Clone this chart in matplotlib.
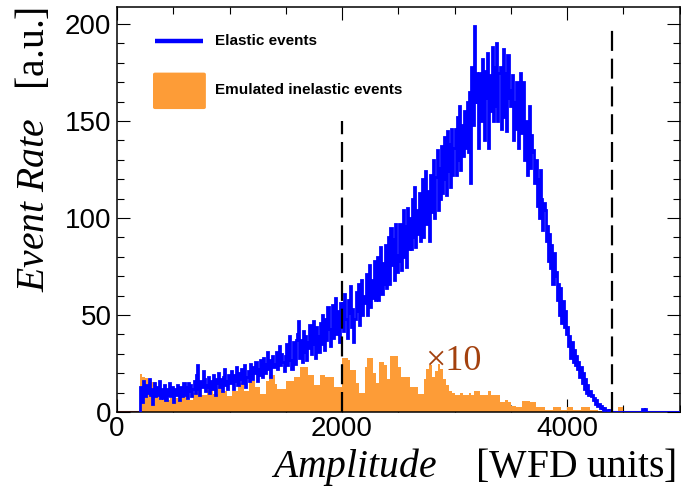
import numpy as np
import matplotlib
matplotlib.use("Agg")
import matplotlib.pyplot as plt
from matplotlib.patches import FancyBboxPatch

plt.rcParams['mathtext.fontset'] = 'custom'
plt.rcParams['mathtext.it'] = 'Liberation Serif:italic'
plt.rcParams['mathtext.rm'] = 'Liberation Serif'

# ---------------- data ----------------
# Elastic events: 10-unit bins starting at 200
elastic_start = 200
elastic_width = 10
elastic_counts = [
    13, 9, 5, 16, 11, 8, 14, 10, 17, 9,
    12, 4, 10, 15, 8, 13, 9, 16, 7, 12,
    11, 7, 14, 6, 12, 9, 15, 8, 10, 13,
    5, 12, 9, 14, 10, 6, 13, 11, 8, 15,
    9, 13, 7, 15, 11, 14, 8, 12, 16, 10,
    19, 24, 12, 9, 16, 13, 21, 17, 11, 14,
    13, 18, 10, 16, 12, 19, 14, 9, 17, 15,
    20, 13, 17, 11, 18, 22, 14, 16, 12, 19,
    15, 21, 18, 12, 19, 16, 23, 14, 20, 17,
    22, 15, 19, 24, 13, 18, 21, 16, 25, 18,
    17, 23, 20, 26, 16, 22, 19, 27, 21, 18,
    28, 20, 25, 31, 22, 27, 18, 24, 29, 23,
    25, 31, 22, 28, 34, 24, 30, 26, 21, 29,
    35, 24, 31, 39, 27, 22, 36, 30, 25, 37,
    40, 47, 28, 37, 26, 42, 31, 39, 27, 36,
    33, 45, 30, 41, 47, 35, 28, 44, 39, 31,
    46, 35, 50, 39, 32, 48, 37, 54, 43, 34,
    42, 55, 38, 50, 59, 40, 52, 36, 56, 47,
    56, 42, 61, 48, 38, 58, 51, 65, 44, 53,
    36, 48, 62, 52, 66, 45, 58, 68, 50, 60,
    56, 71, 50, 65, 76, 54, 68, 59, 78, 58,
    62, 80, 58, 73, 85, 61, 77, 66, 86, 64,
    72, 90, 66, 95, 76, 89, 68, 97, 81, 72,
    78, 97, 73, 90, 104, 80, 96, 75, 105, 84,
    100, 84, 110, 90, 116, 85, 104, 92, 113, 88,
    96, 120, 90, 110, 124, 97, 114, 88, 122, 103,
    106, 130, 100, 121, 135, 104, 126, 110, 137, 113,
    120, 142, 112, 145, 124, 138, 116, 146, 122, 136,
    146, 122, 152, 130, 158, 125, 148, 132, 155, 136,
    142, 160, 134, 165, 118, 178, 148, 199, 160, 175,
    160, 136, 175, 150, 182, 158, 140, 176, 162, 185,
    136, 174, 155, 188, 150, 178, 158, 190, 150, 175,
    178, 146, 170, 187, 152, 175, 145, 184, 162, 158,
    166, 174, 140, 160, 146, 170, 136, 158, 175, 144,
    152, 170, 130, 150, 122, 146, 158, 126, 143, 134,
    135, 118, 130, 106, 120, 100, 125, 110, 94, 108,
    104, 88, 96, 78, 92, 74, 86, 66, 82, 70,
    72, 58, 66, 50, 64, 46, 57, 44, 52, 40,
    44, 34, 39, 28, 36, 26, 32, 24, 29, 22,
    26, 18, 23, 15, 20, 12, 17, 10, 14, 9,
    11, 8, 9, 6, 7, 4, 6, 3, 4, 2,
    3, 2, 1, 2, 1, 1, 0, 1, 0, 0,
    0, 0, 0, 0, 0, 0, 0, 0, 0, 0,
    0, 0, 0, 0, 0, 0, 0, 0, 0, 0,
    0, 0, 0, 0, 0, 0, 0, 1.5, 0, 1.5,
    0, 0, 0, 0, 0, 0, 0, 0, 0, 0,
    0, 0, 0, 0, 0, 0, 0, 0, 0, 0,
    0, 0, 0, 0, 0, 0, 0, 0, 0, 0,
]

# Emulated inelastic events (x10): 25-unit bins starting at 200
inel_start = 200
inel_width = 25
inel_counts = [
    19.6, 18, 17.5, 15.5, 15.5, 15.5, 13, 11, 6, 6, 6, 7, 7, 7, 8, 8,
    8, 6, 6, 10, 11, 11, 9, 9, 12, 12, 9.5, 9.5, 14.5, 11, 11, 8,
    8, 11, 11, 15, 15, 11, 11, 16, 16, 13, 13, 9.5, 9.5, 16, 19, 19,
    14.5, 12, 12, 12, 16, 16, 16, 18, 18, 23, 23, 23, 19, 19, 14, 14,
    19, 19, 18, 18, 18, 13, 13, 13, 28, 28, 27, 21.6, 21.6, 15, 10, 10,
    23, 28, 28, 20, 15, 26, 26, 24, 17, 29, 29, 29, 23, 18, 18, 18,
    13, 13, 13, 9.5, 9.5, 17, 22, 24, 18, 21, 25, 22, 17, 14, 11, 10,
    9, 9, 10, 9, 9, 10, 9, 11, 11, 9, 9, 9, 11, 9, 9, 9,
    5, 5, 6, 5, 3, 3, 2.5, 2.5, 5.5, 5.5, 5.5, 5, 5, 2.7, 2.7, 2.7,
    1, 1, 1, 2.7, 2.7, 2.7, 1, 1, 2.7, 2.7, 1, 1, 1, 2.7, 2.7, 2.7,
    1, 1, 1, 0.5, 0.5, 0, 0, 0, 0, 0, 2.7, 2.7,
]

cut_x = [2000, 4400]
cut_top = [150, 200]

label_text = "\u00d710"
label_pos = (2738, 21.6)

legend_labels = ["Elastic events", "Emulated inelastic events"]

# ---------------- figure ----------------
W, H = 681, 488
fig = plt.figure(figsize=(W / 100, H / 100), dpi=100)
ax = fig.add_axes([117 / W, 1 - 412 / H, 562.5 / W, 405 / H])

orange = '#fd9c37'
blue = '#0000ff'

inel_edges = inel_start + inel_width * np.arange(len(inel_counts) + 1)
elastic_edges = elastic_start + elastic_width * np.arange(len(elastic_counts) + 1)

ax.axhline(0, color='#c0392b', lw=1.5, zorder=1)
ax.stairs(inel_counts, inel_edges, fill=True, color=orange, lw=0, zorder=2)
ax.stairs(elastic_counts, elastic_edges, color=blue, lw=2.0, zorder=3)
ax.vlines(cut_x, 0, cut_top, colors='k', lw=1.6, linestyles=(0, (9, 3.5)), zorder=4)

ax.text(label_pos[0], label_pos[1], label_text, color='#a3410e', fontsize=26,
        family='Liberation Serif', va='baseline', ha='left', zorder=5)

ax.set_xlim(0, 5000)
ax.set_ylim(0, 208.8)
ax.set_xticks([0, 2000, 4000])
ax.set_xticks(np.arange(0, 5001, 500), minor=True)
ax.set_yticks(np.arange(0, 201, 50))
ax.set_yticks(np.arange(0, 201, 10), minor=True)
ax.tick_params(which='both', direction='in', top=True, right=True, width=0.8, color='k')
ax.tick_params(which='major', length=9.5)
ax.tick_params(which='minor', length=5)
ax.tick_params(axis='x', which='major', pad=3)
ax.tick_params(axis='y', which='major', pad=4)
for lab in ax.get_xticklabels() + ax.get_yticklabels():
    lab.set_fontfamily('Liberation Sans')
    lab.set_fontsize(20)
for s in ax.spines.values():
    s.set_linewidth(1.1)

# legend (manual, no frame)
ax.plot([0.068, 0.153], [0.915, 0.915], transform=ax.transAxes, color=blue, lw=3.2,
        solid_capstyle='butt', zorder=6)
ax.add_patch(FancyBboxPatch((0.068, 0.752), 0.086, 0.082, transform=ax.transAxes,
                            boxstyle='round,pad=0.004', facecolor=orange, edgecolor='none', zorder=6))
ax.text(0.174, 0.915, legend_labels[0], transform=ax.transAxes, fontsize=11,
        fontweight='bold', family='Liberation Sans', va='center', ha='left')
ax.text(0.174, 0.795, legend_labels[1], transform=ax.transAxes, fontsize=11,
        fontweight='bold', family='Liberation Sans', va='center', ha='left')

# axis titles
fig.text(676 / W, 1 - 477 / H, r'$\mathit{Amplitude}$    [WFD units]', fontsize=28.5,
         family='Liberation Serif', ha='right', va='baseline')
fig.text(44 / W, 1 - 7 / H, r'$\mathit{Event\ Rate}$   [a.u.]', fontsize=28.5,
         family='Liberation Serif', ha='right', va='baseline', rotation=90,
         rotation_mode='anchor')

fig.savefig('out.png', dpi=100)
